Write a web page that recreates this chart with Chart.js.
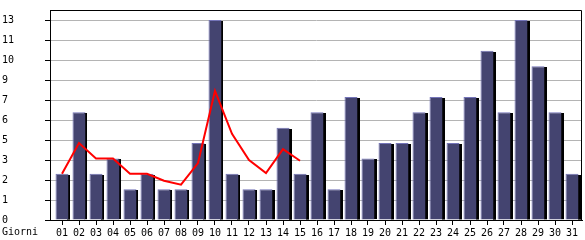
<!DOCTYPE html>
<html>
<head>
<meta charset="utf-8">
<script src="https://cdn.jsdelivr.net/npm/chart.js@4/dist/chart.umd.min.js"></script>
<style>
  html, body { margin: 0; padding: 0; background: #fff; }
  #wrap { width: 585px; height: 240px; }
</style>
</head>
<body>
<div id="wrap"><canvas id="chart" width="585" height="240"></canvas></div>
<script>
// days of the month
const days = [];
for (let d = 1; d <= 31; d++) days.push(d);

// visits per day (bars)
const visits = [3, 7, 3, 4, 2, 3, 2, 2, 5, 13, 3, 2, 2, 6, 3, 7,
  2, 8, 4, 5, 5, 7, 8, 5, 8, 11, 7, 13, 10, 7, 3];

// red trend line, first 15 days only
const trendDays = [1, 2, 3, 4, 5, 6, 7, 8, 9, 10, 11, 12, 13, 14, 15];
const trend = [3, 5, 4, 4, 3, 3, 2.55, 2.3, 3.7, 8.4, 5.6, 3.9, 3.05, 4.6, 3.85];

// y axis tick values (labels shown truncated)
const yTicks = [0, 1.3, 2.6, 3.9, 5.2, 6.5, 7.8, 9.1, 10.4, 11.7, 13];

const font = { family: "DejaVu Sans Mono", size: 10 };

// black drop shadow on the right side of each bar
const barShadow = {
  id: "barShadow",
  beforeDatasetDraw(chart, args) {
    if (args.index !== 0) return;
    const ctx = chart.ctx;
    const meta = chart.getDatasetMeta(0);
    ctx.save();
    ctx.fillStyle = "#000";
    meta.data.forEach((bar) => {
      const right = bar.x + bar.width / 2;
      ctx.fillRect(Math.round(right) - 1, Math.round(bar.y) + 1, 3, bar.base - bar.y - 1);
    });
    ctx.restore();
  },
};

// frame around plot area + axis title
const frame = {
  id: "frame",
  afterDraw(chart) {
    const ctx = chart.ctx;
    const a = chart.chartArea;
    ctx.save();
    ctx.strokeStyle = "#000";
    ctx.lineWidth = 1;
    ctx.beginPath();
    ctx.moveTo(Math.round(a.left) + 0.5, Math.round(a.bottom) + 0.5);
    ctx.lineTo(Math.round(a.left) + 0.5, Math.round(a.top) + 0.5);
    ctx.lineTo(Math.round(a.right) - 0.5, Math.round(a.top) + 0.5);
    ctx.lineTo(Math.round(a.right) - 0.5, Math.round(a.bottom) + 0.5);
    ctx.stroke();
    ctx.fillStyle = "#000";
    ctx.font = "10px 'DejaVu Sans Mono'";
    ctx.textBaseline = "middle";
    ctx.fillText("Giorni", 2, 232);
    ctx.restore();
  },
};

new Chart(document.getElementById("chart"), {
  data: {
    datasets: [
      {
        type: "bar",
        data: days.map((d, i) => ({ x: d, y: visits[i] })),
        backgroundColor: "#444470",
        borderColor: "#7474b8",
        borderWidth: { left: 1, top: 1, right: 0, bottom: 0 },
        borderSkipped: false,
        barPercentage: 13 / 17,
        categoryPercentage: 1,
        order: 2,
      },
      {
        type: "line",
        data: trendDays.map((d, i) => ({ x: d, y: trend[i] })),
        borderColor: "#ff0000",
        borderWidth: 2,
        pointRadius: 0,
        tension: 0,
        order: 1,
      },
    ],
  },
  options: {
    responsive: false,
    animation: false,
    layout: { padding: { top: 10, right: 3, left: 2, bottom: 0 } },
    plugins: {
      legend: { display: false },
      tooltip: { enabled: false },
    },
    scales: {
      x: {
        type: "linear",
        offset: false,
        min: 5 / 17,
        max: 537 / 17,
        afterBuildTicks(scale) {
          scale.ticks = days.map((d) => ({ value: d }));
        },
        afterFit(scale) {
          scale.height = 20;
        },
        ticks: {
          color: "#000",
          font: font,
          padding: 2,
          maxRotation: 0,
          autoSkip: false,
          callback: (v) => String(v).padStart(2, "0"),
        },
        grid: {
          offset: false,
          drawOnChartArea: false,
          drawTicks: true,
          tickLength: 5,
          tickColor: "#000",
        },
        border: { display: true, color: "#000" },
      },
      y: {
        min: 0,
        max: 13.65,
        afterBuildTicks(scale) {
          scale.ticks = yTicks.map((v) => ({ value: v }));
        },
        afterFit(scale) {
          scale.width = 48;
        },
        ticks: {
          color: "#000",
          font: font,
          crossAlign: "far",
          padding: 2,
          callback: (v) => String(Math.floor(v + 1e-9)),
        },
        grid: {
          color: "#b4b4b4",
          tickColor: "#000",
          tickLength: 5,
        },
        border: { display: true, color: "#000" },
      },
    },
  },
  plugins: [barShadow, frame],
});
</script>
</body>
</html>
